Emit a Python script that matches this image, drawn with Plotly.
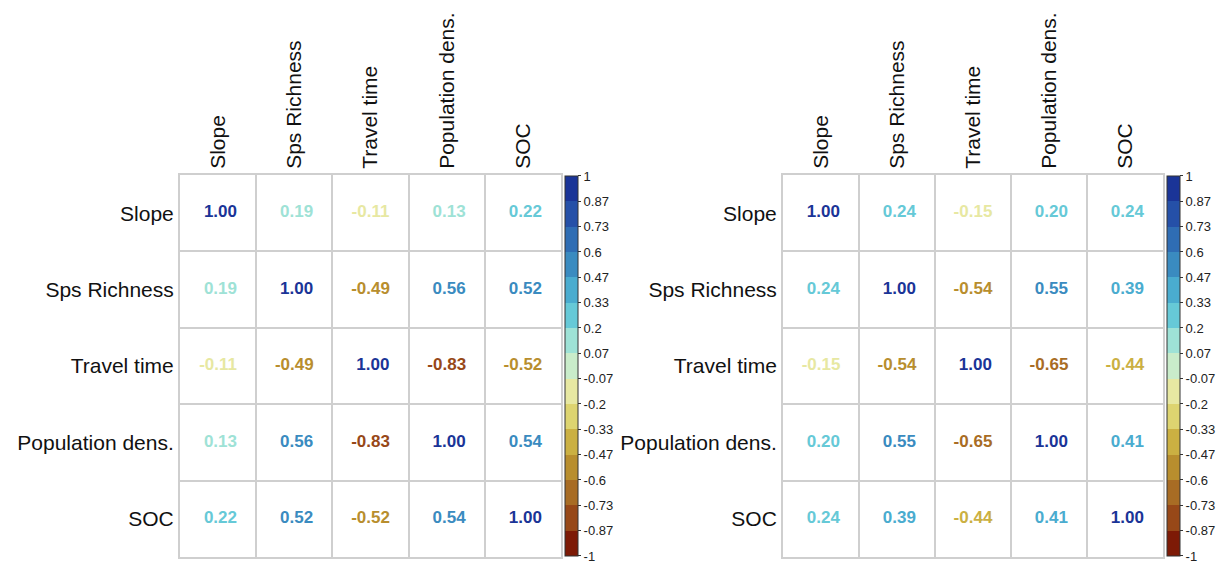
import numpy as np
import plotly.graph_objects as go

variables = ["Slope", "Sps Richness", "Travel time", "Population dens.", "SOC"]

corr_left = [
    [1.00, 0.19, -0.11, 0.13, 0.22],
    [0.19, 1.00, -0.49, 0.56, 0.52],
    [-0.11, -0.49, 1.00, -0.83, -0.52],
    [0.13, 0.56, -0.83, 1.00, 0.54],
    [0.22, 0.52, -0.52, 0.54, 1.00],
]

corr_right = [
    [1.00, 0.24, -0.15, 0.20, 0.24],
    [0.24, 1.00, -0.54, 0.55, 0.39],
    [-0.15, -0.54, 1.00, -0.65, -0.44],
    [0.20, 0.55, -0.65, 1.00, 0.41],
    [0.24, 0.39, -0.44, 0.41, 1.00],
]

# 15 colour bins from -1 (bottom) to 1 (top)
palette = [
    "#7d1a06", "#974818", "#a86c24", "#b88e2e", "#cbb042",
    "#ddd470", "#e7e8a2", "#c9ecca", "#9ee2d6", "#66c9d7",
    "#4aaccf", "#3a8bc0", "#2f6db4", "#2550a8", "#1a3497",
]
n_bins = len(palette)
bin_edges = np.linspace(-1, 1, n_bins + 1)
cbar_ticktext = ["1" if abs(v - 1) < 1e-9 else "-1" if abs(v + 1) < 1e-9
                 else f"{v:.2f}".rstrip("0") for v in bin_edges]

colorscale = []
for i, c in enumerate(palette):
    colorscale.append([i / n_bins, c])
    colorscale.append([(i + 1) / n_bins, c])


def bin_color(v):
    idx = int(np.floor((v + 1) / 2 * n_bins + 1e-9))
    return palette[min(max(idx, 0), n_bins - 1)]


def label(v):
    s = f"{v:.2f}"
    return s if v < 0 else "\u00a0" + s


font_family = "Liberation Sans, Arial, Helvetica, sans-serif"
grid_color = "#cfcfcf"

fig = go.Figure()

panels = [
    (corr_left, "x", "y", 0.4645),
    (corr_right, "x2", "y2", 0.9592),
]

for corr, xa, ya, cbx in panels:
    xs, ys, texts, colors, vals = [], [], [], [], []
    for r, row in enumerate(corr):
        for c, v in enumerate(row):
            xs.append(c)
            ys.append(r)
            texts.append(label(v))
            colors.append(bin_color(v))
            vals.append(v)
    fig.add_trace(go.Scatter(
        x=xs, y=ys, mode="markers+text", text=texts,
        textposition="middle center",
        textfont=dict(family=font_family, size=17, color=colors, weight="bold"),
        marker=dict(
            color=vals, colorscale=colorscale, cmin=-1, cmax=1, opacity=0, size=1,
            showscale=True,
            colorbar=dict(
                x=cbx, xanchor="left", y=0.3476, yanchor="middle",
                thickness=13, len=380, lenmode="pixels",
                outlinewidth=1, outlinecolor="#333333",
                tickvals=list(bin_edges), ticktext=cbar_ticktext,
                ticks="outside", ticklen=3, tickwidth=1, tickcolor="#333333",
                tickfont=dict(family=font_family, size=13, color="#222222"),
                ticklabeloverflow="allow",
                xpad=0, ypad=0,
            ),
        ),
        hoverinfo="skip", showlegend=False, xaxis=xa, yaxis=ya,
    ))

axis_common = dict(
    range=[-0.5, 4.5], tickvals=list(range(5)), ticktext=variables,
    showgrid=False, zeroline=False, ticks="",
    showline=True, mirror=True, linecolor=grid_color, linewidth=2,
    tickfont=dict(family=font_family, size=21, color="#111111"),
    minor=dict(tickvals=[0.5, 1.5, 2.5, 3.5], showgrid=True,
               gridcolor=grid_color, gridwidth=2, ticks=""),
    fixedrange=True,
)

fig.update_layout(
    width=1217, height=561,
    margin=dict(l=0, r=0, t=0, b=0),
    paper_bgcolor="white", plot_bgcolor="white",
    xaxis=dict(axis_common, domain=[0.1479, 0.461], side="top", tickangle=-90, anchor="y"),
    yaxis=dict(axis_common, domain=[0.0071, 0.688], range=[4.5, -0.5], anchor="x"),
    xaxis2=dict(axis_common, domain=[0.6434, 0.9556], side="top", tickangle=-90, anchor="y2"),
    yaxis2=dict(axis_common, domain=[0.0071, 0.688], range=[4.5, -0.5], anchor="x2"),
)

fig.write_html("out.html")
